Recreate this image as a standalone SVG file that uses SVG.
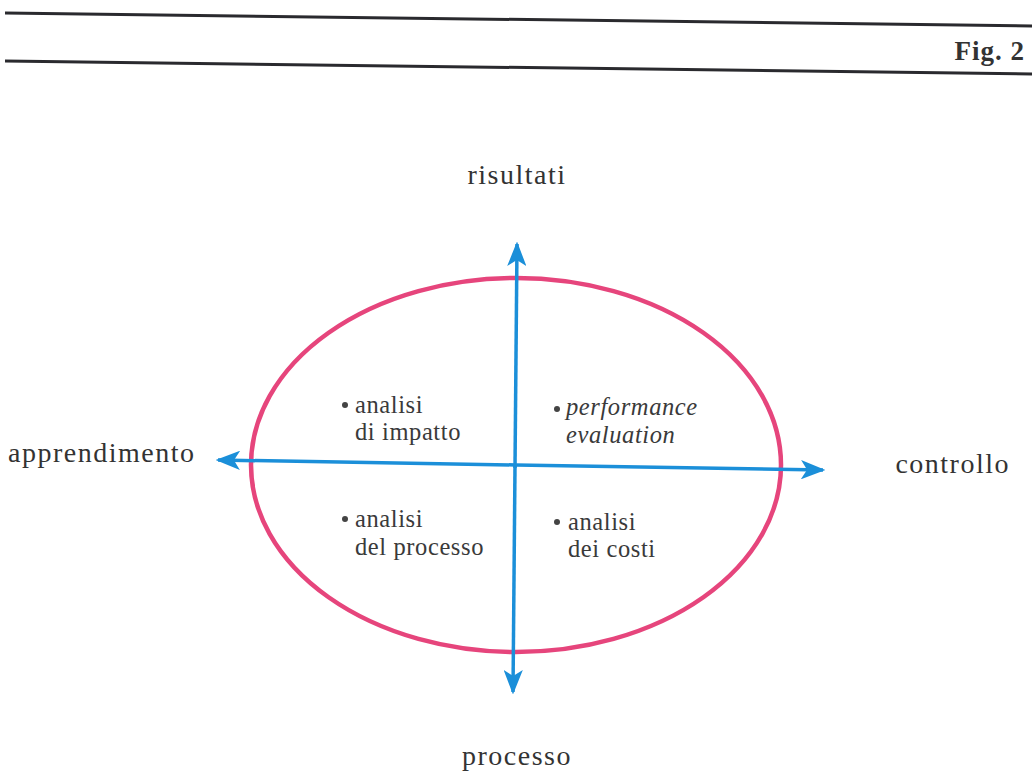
<svg xmlns="http://www.w3.org/2000/svg" width="1032" height="771" viewBox="0 0 1032 771">
<defs>
<marker id="ah" viewBox="0 0 10 10" refX="9" refY="5" markerWidth="7" markerHeight="5.5" markerUnits="strokeWidth" orient="auto" preserveAspectRatio="none">
<path d="M0,0 L10,5 L0,10 L2.5,5 Z" fill="#1b8fd9"/>
</marker>
</defs>
<style>
.rule{stroke:#2a2a2e;stroke-width:3;fill:none}
.lbl{font-family:"Liberation Serif","Times New Roman",serif;font-size:28px;letter-spacing:1.5px;fill:#333}
.in{font-family:"Liberation Serif","Times New Roman",serif;font-size:24.5px;letter-spacing:0.6px;fill:#3a3a3a}
.it{font-style:italic}
.dot{fill:#444}
.axis{stroke:#1b8fd9;stroke-width:3.5;fill:none;marker-end:url(#ah)}
</style>
<rect width="1032" height="771" fill="#ffffff"/>
<g id="header">
<line class="rule" x1="5" y1="13" x2="1032" y2="26"/>
<line class="rule" x1="5" y1="61" x2="1032" y2="74"/>
<text x="1025" y="60" text-anchor="end" font-family="Liberation Serif,Times New Roman,serif" font-weight="bold" font-size="27" letter-spacing="1" fill="#333">Fig. 2</text>
</g>
<g id="ellipse">
<ellipse cx="516" cy="465" rx="265" ry="187" fill="none" stroke="#e6457c" stroke-width="4.5"/>
</g>
<g id="connectors">
<path class="axis" d="M515,466 L513,692"/>
<path class="axis" d="M515,468 L517,244"/>
<path class="axis" d="M516,465 L218,460"/>
<path class="axis" d="M516,465 L823,470"/>
</g>
<g id="risultati"><text class="lbl" x="517" y="184" text-anchor="middle">risultati</text></g>
<g id="apprendimento"><text class="lbl" x="8" y="462">apprendimento</text></g>
<g id="controllo"><text class="lbl" x="1010" y="473" text-anchor="end">controllo</text></g>
<g id="processo"><text class="lbl" x="517" y="765" text-anchor="middle">processo</text></g>
<g id="q-impatto">
<circle class="dot" cx="345" cy="405" r="3"/>
<text class="in" x="355" y="413">analisi</text>
<text class="in" x="355" y="440">di impatto</text>
</g>
<g id="q-performance">
<circle class="dot" cx="557" cy="409" r="3"/>
<text class="in it" x="566" y="415">performance</text>
<text class="in it" x="566" y="443">evaluation</text>
</g>
<g id="q-processo">
<circle class="dot" cx="345" cy="519" r="3"/>
<text class="in" x="355" y="527">analisi</text>
<text class="in" x="355" y="555">del processo</text>
</g>
<g id="q-costi">
<circle class="dot" cx="557" cy="522" r="3"/>
<text class="in" x="568" y="530">analisi</text>
<text class="in" x="568" y="557">dei costi</text>
</g>
</svg>
